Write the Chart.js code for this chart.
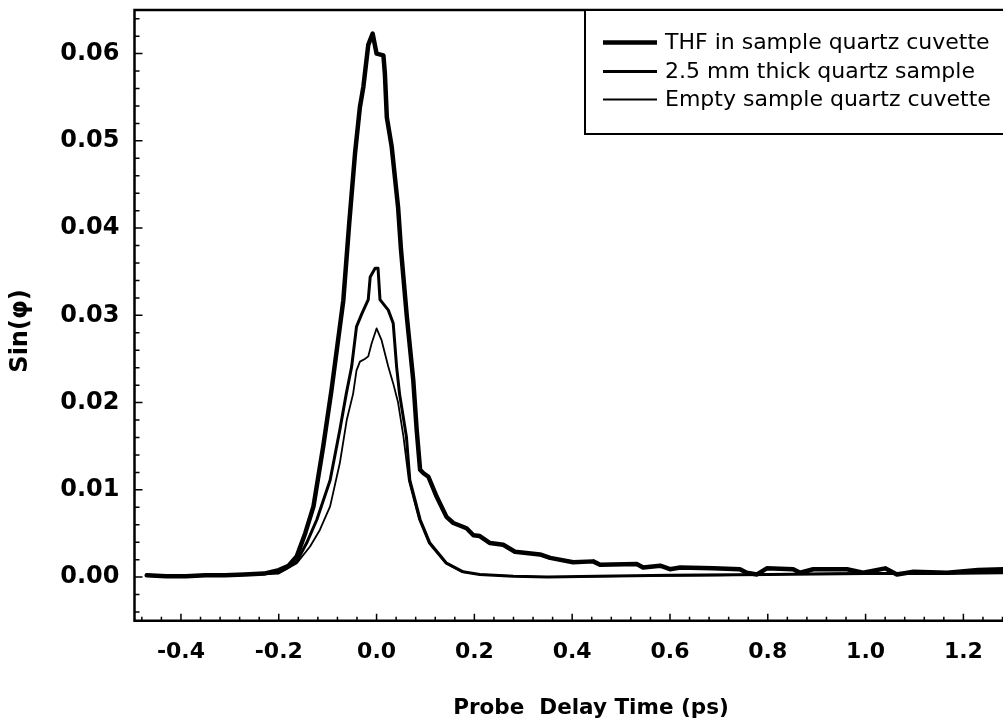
<!DOCTYPE html>
<html>
<head>
<meta charset="utf-8">
<script src="https://cdn.jsdelivr.net/npm/chart.js@4.4.1/dist/chart.umd.min.js"></script>
<style>
    html, body { margin: 0; padding: 0; background: #fff; }
    #wrap { width: 1003px; height: 725px; }
</style>
</head>
<body>
<div id="wrap"><canvas id="result"></canvas></div>
<script>
// series labels, as in the legend
const seriesNames = ['THF in sample quartz cuvette', '2.5 mm thick quartz sample', 'Empty sample quartz cuvette'];
const xTitle = 'Probe  Delay Time (ps)';
const yTitle = 'Sin(φ)';

// THF in sample quartz cuvette (thick line)
const thfX = [-0.47, -0.43, -0.39, -0.35, -0.31, -0.27, -0.23, -0.20, -0.18, -0.163, -0.146, -0.129, -0.109, -0.092,
    -0.068, -0.056, -0.044, -0.034, -0.027, -0.017, -0.008, 0.0, 0.014, 0.017, 0.021, 0.031, 0.044, 0.050,
    0.062, 0.075, 0.082, 0.089, 0.096, 0.106, 0.123, 0.143, 0.157, 0.184, 0.198, 0.211, 0.232, 0.259,
    0.283, 0.334, 0.355, 0.402, 0.443, 0.457, 0.532, 0.545, 0.580, 0.600, 0.621, 0.688, 0.743, 0.757,
    0.778, 0.798, 0.852, 0.866, 0.893, 0.962, 0.995, 1.040, 1.064, 1.098, 1.167, 1.230, 1.281];
const thfY = [0.0002, 0.0001, 0.0001, 0.0002, 0.0002, 0.0003, 0.0004, 0.0008, 0.0013, 0.0024, 0.0050, 0.0081, 0.0150, 0.0215,
    0.0317, 0.0405, 0.0486, 0.0539, 0.0562, 0.0610, 0.0623, 0.0600, 0.0598, 0.0577, 0.0527, 0.0493, 0.0424, 0.0375,
    0.0298, 0.0226, 0.0169, 0.0123, 0.0119, 0.0115, 0.0092, 0.0069, 0.0062, 0.0056, 0.0048, 0.0047, 0.0039, 0.0037,
    0.0029, 0.0026, 0.0022, 0.0017, 0.0018, 0.0014, 0.0015, 0.0011, 0.0013, 0.0009, 0.0011, 0.0010, 0.0009, 0.0005,
    0.0003, 0.0010, 0.0009, 0.0005, 0.0009, 0.0009, 0.0005, 0.0010, 0.0003, 0.0006, 0.0005, 0.0008, 0.0009];

// 2.5 mm thick quartz sample (medium line)
const quartzX = [-0.47, -0.43, -0.39, -0.35, -0.31, -0.27, -0.23, -0.20, -0.184, -0.163, -0.143, -0.122, -0.095, -0.075,
    -0.062, -0.051, -0.041, -0.030, -0.017, -0.013, -0.003, 0.003, 0.007, 0.024, 0.034, 0.041, 0.047, 0.061,
    0.068, 0.089, 0.109, 0.143, 0.177, 0.211, 0.28, 0.35, 0.45, 0.6, 0.8, 1.0, 1.15, 1.281];
const quartzY = [0.0002, 0.0001, 0.0001, 0.0002, 0.0002, 0.0003, 0.0004, 0.0006, 0.0010, 0.0018, 0.0039, 0.0066, 0.0111, 0.0169,
    0.0210, 0.0241, 0.0287, 0.0302, 0.0318, 0.0344, 0.0354, 0.0354, 0.0318, 0.0306, 0.0291, 0.0241, 0.0210, 0.0161,
    0.0111, 0.0066, 0.0039, 0.0016, 0.0006, 0.0003, 0.0001, 0.0000, 0.0001, 0.0002, 0.0003, 0.0004, 0.0004, 0.0005];

// Empty sample quartz cuvette (thin line)
const emptyX = [-0.47, -0.43, -0.39, -0.35, -0.31, -0.27, -0.23, -0.20, -0.163, -0.136, -0.116, -0.095, -0.075, -0.061,
    -0.048, -0.041, -0.034, -0.024, -0.017, -0.010, 0.0, 0.010, 0.024, 0.034, 0.044, 0.055, 0.066, 0.087,
    0.107, 0.141, 0.175, 0.21, 0.28, 0.35, 0.5, 0.7, 0.9, 1.1, 1.281];
const emptyY = [0.0002, 0.0001, 0.0001, 0.0002, 0.0002, 0.0003, 0.0003, 0.0004, 0.0016, 0.0035, 0.0054, 0.0081, 0.0131, 0.0180,
    0.0210, 0.0237, 0.0247, 0.0250, 0.0253, 0.0268, 0.0285, 0.0272, 0.0241, 0.0222, 0.0200, 0.0161, 0.0111, 0.0066,
    0.0039, 0.0016, 0.0006, 0.0003, 0.0001, 0.0000, 0.0001, 0.0002, 0.0004, 0.0005, 0.0006];

// tick labels
const xTickValues = [-0.4, -0.2, 0.0, 0.2, 0.4, 0.6, 0.8, 1.0, 1.2];
const yTickValues = [0.00, 0.01, 0.02, 0.03, 0.04, 0.05, 0.06];

const lineWidths = [4.5, 3, 1.8];

function toPoints (xs, ys) {
    return xs.map((x, i) => ({ x: x, y: ys[i] }));
}

// frame on three sides plus inward minor/major ticks
const frameTicks = {
    id: 'frameTicks',
    afterDraw (chart) {
        const { ctx, chartArea: a, scales: { x, y } } = chart;
        ctx.save();
        ctx.strokeStyle = '#000';
        ctx.lineWidth = 2.5;
        ctx.beginPath();
        ctx.moveTo(a.right + 3, a.top);
        ctx.lineTo(a.left, a.top);
        ctx.lineTo(a.left, a.bottom);
        ctx.lineTo(a.right + 3, a.bottom);
        ctx.stroke();

        ctx.lineWidth = 1.5;
        ctx.beginPath();
        for (let k = -12; k <= 32; k++) {
            const v = k * 0.04;
            if (v < x.min || v > x.max) continue;
            const px = x.getPixelForValue(v);
            const len = (k % 5 === 0) ? 7 : 4;
            ctx.moveTo(px, a.bottom);
            ctx.lineTo(px, a.bottom - len);
        }
        for (let k = -2; k <= 32; k++) {
            const v = k * 0.002;
            if (v < y.min || v > y.max) continue;
            const py = y.getPixelForValue(v);
            const len = (k % 5 === 0) ? 8 : 5;
            ctx.moveTo(a.left, py);
            ctx.lineTo(a.left + len, py);
        }
        ctx.stroke();
        ctx.restore();
    }
};

// axis titles (the original x title is centred on the uncropped axis)
const axisTitles = {
    id: 'axisTitles',
    afterDraw (chart) {
        const { ctx } = chart;
        ctx.save();
        ctx.fillStyle = '#000';
        ctx.textAlign = 'center';

        ctx.font = 'bold 21.5px "DejaVu Sans"';
        ctx.textBaseline = 'alphabetic';
        ctx.fillText(xTitle, 591, 714);

        ctx.translate(21, 331);
        ctx.rotate(-Math.PI / 2);
        ctx.font = 'bold 24px "DejaVu Sans"';
        ctx.textBaseline = 'middle';
        ctx.fillText(yTitle, 0, 0);
        ctx.restore();
    }
};

// boxed legend inside the plot, top right
const boxLegend = {
    id: 'boxLegend',
    afterDraw (chart) {
        const { ctx, chartArea: a } = chart;
        const left = 585, top = a.top, bottom = 134;
        ctx.save();
        ctx.fillStyle = '#fff';
        ctx.fillRect(left, top, a.right - left + 5, bottom - top);
        ctx.strokeStyle = '#000';
        ctx.lineWidth = 2;
        ctx.beginPath();
        ctx.moveTo(a.right + 5, top);
        ctx.lineTo(left, top);
        ctx.lineTo(left, bottom);
        ctx.lineTo(a.right + 5, bottom);
        ctx.stroke();

        const rows = [42.5, 71.5, 99.5];
        ctx.font = '22px "DejaVu Sans"';
        ctx.fillStyle = '#000';
        ctx.textBaseline = 'middle';
        chart.data.datasets.forEach((ds, i) => {
            ctx.lineWidth = ds.borderWidth;
            ctx.beginPath();
            ctx.moveTo(603, rows[i]);
            ctx.lineTo(657, rows[i]);
            ctx.stroke();
            ctx.fillText(ds.label, 665, rows[i] + 1);
        });
        ctx.restore();
    }
};

const data = {
    datasets: [
        { label: seriesNames[0], data: toPoints(thfX, thfY), borderWidth: lineWidths[0] },
        { label: seriesNames[1], data: toPoints(quartzX, quartzY), borderWidth: lineWidths[1] },
        { label: seriesNames[2], data: toPoints(emptyX, emptyY), borderWidth: lineWidths[2] }
    ].map(ds => Object.assign(ds, {
        borderColor: '#000',
        backgroundColor: '#000',
        fill: false,
        pointRadius: 0,
        tension: 0,
        borderJoinStyle: 'round',
        borderCapStyle: 'round'
    }))
};

const tickFont = { family: 'DejaVu Sans', weight: 'bold' };

const options = {
    responsive: true,
    maintainAspectRatio: false,
    animation: false,
    layout: { padding: { top: 10, right: 0, bottom: 0, left: 0 } },
    plugins: { legend: { display: false }, tooltip: { enabled: false } },
    scales: {
        x: {
            type: 'linear',
            min: -0.495,
            max: 1.281,
            grid: { display: false, drawTicks: false },
            border: { display: false },
            afterBuildTicks: s => { s.ticks = xTickValues.map(v => ({ value: v })); },
            afterFit: s => { s.height = 104.3; s.paddingLeft = 0; s.paddingRight = 0; },
            ticks: {
                autoSkip: false, maxRotation: 0, padding: 18, color: '#000',
                font: Object.assign({ size: 22 }, tickFont),
                callback: v => v.toFixed(1)
            },
            title: { display: false, text: xTitle }
        },
        y: {
            type: 'linear',
            min: -0.005,
            max: 0.065,
            grid: { display: false, drawTicks: false },
            border: { display: false },
            afterBuildTicks: s => { s.ticks = yTickValues.map(v => ({ value: v })); },
            afterFit: s => { s.width = 134.5; s.paddingTop = 0; s.paddingBottom = 0; },
            ticks: {
                padding: 15, color: '#000',
                font: Object.assign({ size: 24 }, tickFont),
                callback: v => v.toFixed(2)
            },
            title: { display: false, text: yTitle }
        }
    }
};

function mountChart () {
    let ctx = document.getElementById('result').getContext('2d');
    new Chart(ctx, {
        type: 'line',
        data,
        options,
        plugins: [frameTicks, axisTitles, boxLegend]
    });
}

mountChart();
</script>
</body>
</html>
